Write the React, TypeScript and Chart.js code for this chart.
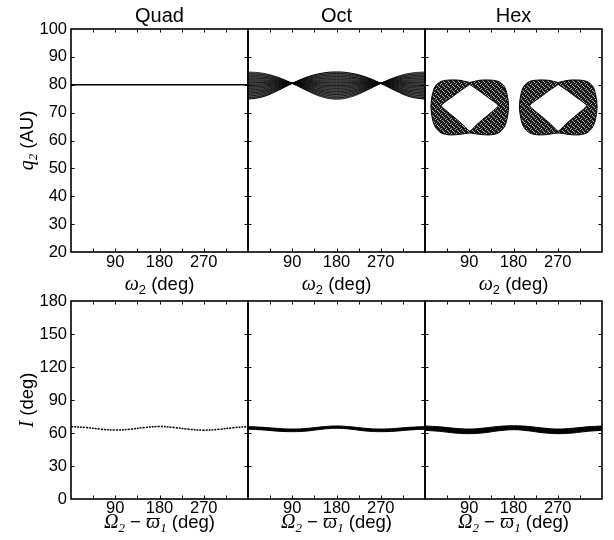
import React, { useEffect, useRef } from "react";
import { Chart, registerables } from "chart.js";
Chart.register(...registerables);

// ---------- data ----------
const OMEGA_DEG = [0, 30, 60, 90, 120, 150, 180, 210, 240, 270, 300, 330, 360];
const X_MARKS = [45, 90, 135, 180, 225, 270, 315];
const X_LABELS = [90, 180, 270];
const Q_TICKS = [20, 30, 40, 50, 60, 70, 80, 90, 100];
const I_TICKS = [0, 30, 60, 90, 120, 150, 180];
const PANEL_TITLES = ["Quad", "Oct", "Hex"];

// Quad: q2 vs omega2
const QUAD_Q = [80, 80, 80, 80, 80, 80, 80, 80, 80, 80, 80, 80, 80];

// Oct: family of q2 curves vs omega2 (first two are the envelope)
const OCT_Q_CURVES = [
  [84.6, 84.14, 82.75, 80.5, 77.85, 75.66, 74.8, 75.66, 77.85, 80.5, 82.75, 84.14, 84.6],
  [74.8, 75.66, 77.85, 80.5, 82.75, 84.14, 84.6, 84.14, 82.75, 80.5, 77.85, 75.66, 74.8],
  [84.0, 83.7, 82.5, 80.5, 78.1, 76.1, 75.3, 76.1, 78.1, 80.5, 82.5, 83.7, 84.0],
  [83.5, 83.19, 82.2, 80.5, 78.4, 76.61, 75.9, 76.61, 78.4, 80.5, 82.2, 83.19, 83.5],
  [82.9, 82.7, 81.9, 80.5, 78.7, 77.1, 76.5, 77.1, 78.7, 80.5, 81.9, 82.7, 82.9],
  [82.4, 82.24, 81.65, 80.5, 78.95, 77.56, 77.0, 77.56, 78.95, 80.5, 81.65, 82.24, 82.4],
  [81.8, 81.7, 81.4, 80.5, 79.2, 78.0, 77.6, 78.0, 79.2, 80.5, 81.4, 81.7, 81.8],
  [81.3, 81.29, 81.1, 80.5, 79.5, 78.51, 78.1, 78.51, 79.5, 80.5, 81.1, 81.29, 81.3],
  [80.7, 80.8, 80.8, 80.5, 79.8, 79.0, 78.7, 79.0, 79.8, 80.5, 80.8, 80.8, 80.7],
  [80.2, 80.33, 80.55, 80.5, 80.05, 79.47, 79.2, 79.47, 80.05, 80.5, 80.55, 80.33, 80.2],
  [79.7, 79.9, 80.3, 80.5, 80.3, 79.9, 79.7, 79.9, 80.3, 80.5, 80.3, 79.9, 79.7],
  [79.2, 79.47, 80.05, 80.5, 80.55, 80.33, 80.2, 80.33, 80.55, 80.5, 80.05, 79.47, 79.2],
  [78.7, 79.0, 79.8, 80.5, 80.8, 80.8, 80.7, 80.8, 80.8, 80.5, 79.8, 79.0, 78.7],
  [78.1, 78.51, 79.5, 80.5, 81.1, 81.29, 81.3, 81.29, 81.1, 80.5, 79.5, 78.51, 78.1],
  [77.6, 78.0, 79.2, 80.5, 81.4, 81.7, 81.8, 81.7, 81.4, 80.5, 79.2, 78.0, 77.6],
  [77.0, 77.56, 78.95, 80.5, 81.65, 82.24, 82.4, 82.24, 81.65, 80.5, 78.95, 77.56, 77.0],
  [76.5, 77.1, 78.7, 80.5, 81.9, 82.7, 82.9, 82.7, 81.9, 80.5, 78.7, 77.1, 76.5],
  [75.9, 76.61, 78.4, 80.5, 82.2, 83.19, 83.5, 83.19, 82.2, 80.5, 78.4, 76.61, 75.9],
  [75.3, 76.1, 78.1, 80.5, 82.5, 83.7, 84.0, 83.7, 82.5, 80.5, 78.1, 76.1, 75.3],
];

// Hex: outer and inner boundaries of the two librating islands
const HEX_OUTER_W_A = [91, 71, 51, 33, 21, 15, 12, 15, 21, 33, 51, 71, 91, 111, 131, 149, 161, 167, 170, 167, 161, 149, 131, 111, 91];
const HEX_OUTER_W_B = [271, 251, 231, 213, 201, 195, 192, 195, 201, 213, 231, 251, 271, 291, 311, 329, 341, 347, 350, 347, 341, 329, 311, 291, 271];
const HEX_OUTER_Q = [80.8, 81.6, 81.7, 81.2, 79.5, 76.5, 72.2, 67.8, 64.8, 62.7, 62.0, 62.2, 62.7, 62.2, 62.0, 62.7, 64.8, 67.8, 72.2, 76.5, 79.5, 81.2, 81.7, 81.6, 80.8];
const HEX_INNER_W_A = [91, 75, 55, 33, 55, 75, 91, 107, 127, 149, 127, 107, 91];
const HEX_INNER_W_B = [271, 255, 235, 213, 235, 255, 271, 287, 307, 329, 307, 287, 271];
const HEX_INNER_Q = [80.1, 78.2, 75.6, 72.5, 69.0, 66.0, 63.4, 66.0, 69.0, 72.5, 75.6, 78.2, 80.1];

// Bottom row: I vs Omega2 - varpi1
const QUAD_I = [65.8, 65.0, 63.5, 62.7, 63.4, 65.0, 65.9, 65.0, 63.4, 62.6, 63.3, 64.8, 65.8];
const OCT_I_UPPER = [65.8, 65.2, 64.2, 63.6, 64.2, 65.6, 66.4, 65.6, 64.2, 63.6, 64.2, 65.2, 65.8];
const OCT_I_LOWER = [63.5, 62.8, 61.7, 61.2, 61.8, 63.4, 64.3, 63.4, 61.8, 61.2, 61.7, 62.8, 63.5];
const HEX_I_UPPER = [66.4, 65.6, 64.3, 63.6, 64.5, 66.0, 66.6, 66.0, 64.5, 63.6, 64.3, 65.6, 66.4];
const HEX_I_LOWER = [62.4, 61.5, 60.0, 59.4, 60.2, 62.0, 63.0, 62.0, 60.2, 59.4, 60.0, 61.5, 62.4];

// ---------- styling ----------
const SANS_FAMILY = "'Liberation Sans', Arial, Helvetica, sans-serif";
const SERIF_FAMILY = "'Liberation Serif', 'DejaVu Serif', 'Times New Roman', serif";
const SERIF_I = `italic 20px ${SERIF_FAMILY}`;
const SUB_I = `italic 13px ${SERIF_FAMILY}`;
const SUB_S = `13px ${SANS_FAMILY}`;
const SANS = `18.5px ${SANS_FAMILY}`;
const TITLE_FONT = `20px ${SANS_FAMILY}`;

type Seg = { t: string; font: string; dy?: number };

const X_TITLE_TOP: Seg[] = [
  { t: "ω", font: SERIF_I },
  { t: "2", font: SUB_S, dy: 4 },
  { t: " (deg)", font: SANS },
];
const X_TITLE_BOTTOM: Seg[] = [
  { t: "Ω", font: SERIF_I },
  { t: "2", font: SUB_I, dy: 4 },
  { t: " − ", font: SANS },
  { t: "ϖ", font: SERIF_I },
  { t: "1", font: SUB_I, dy: 4 },
  { t: " (deg)", font: SANS },
];
const Y_TITLE_TOP: Seg[] = [
  { t: "q", font: SERIF_I },
  { t: "2", font: SUB_I, dy: 4 },
  { t: " (AU)", font: SANS },
];
const Y_TITLE_BOTTOM: Seg[] = [
  { t: "I", font: SERIF_I },
  { t: " (deg)", font: SANS },
];

function drawRich(ctx: CanvasRenderingContext2D, segs: Seg[], cx: number, cy: number, rotate: boolean) {
  ctx.save();
  ctx.translate(cx, cy);
  if (rotate) ctx.rotate(-Math.PI / 2);
  ctx.fillStyle = "#000";
  ctx.textAlign = "left";
  ctx.textBaseline = "alphabetic";
  let total = 0;
  const widths = segs.map((s) => {
    ctx.font = s.font;
    const w = ctx.measureText(s.t).width;
    total += w;
    return w;
  });
  let x = -total / 2;
  segs.forEach((s, i) => {
    ctx.font = s.font;
    ctx.fillText(s.t, x, s.dy || 0);
    x += widths[i];
  });
  ctx.restore();
}

const panelDecor = {
  id: "panelDecor",
  afterDraw(chart: any, _args: any, opts: any) {
    const { ctx, chartArea: a, scales } = chart;
    const xs = scales.x;
    const ys = scales.y;
    ctx.save();
    ctx.strokeStyle = "#000";
    ctx.lineWidth = 1;
    const tl = 3.5;
    ctx.beginPath();
    X_MARKS.forEach((v) => {
      const px = Math.round(xs.getPixelForValue(v)) + 0.5;
      ctx.moveTo(px, a.top);
      ctx.lineTo(px, a.top + tl);
      ctx.moveTo(px, a.bottom);
      ctx.lineTo(px, a.bottom - tl);
    });
    (opts.yMarks as number[]).forEach((v, i, arr) => {
      if (i === 0 || i === arr.length - 1) return;
      const py = Math.round(ys.getPixelForValue(v)) + 0.5;
      ctx.moveTo(a.left, py);
      ctx.lineTo(a.left + tl, py);
      ctx.moveTo(a.right, py);
      ctx.lineTo(a.right - tl, py);
    });
    ctx.stroke();
    ctx.lineWidth = 1.6;
    ctx.strokeRect(a.left, a.top, a.right - a.left, a.bottom - a.top);
    ctx.restore();

    const cx = (a.left + a.right) / 2;
    if (opts.title) {
      ctx.save();
      ctx.font = TITLE_FONT;
      ctx.fillStyle = "#000";
      ctx.textAlign = "center";
      ctx.textBaseline = "alphabetic";
      ctx.fillText(opts.title, cx, a.top - 7);
      ctx.restore();
    }
    if (opts.xTitle) drawRich(ctx, opts.xTitle, cx, a.bottom + opts.xTitleOffset, false);
    if (opts.yTitle) drawRich(ctx, opts.yTitle, 33, (a.top + a.bottom) / 2, true);
  },
};

function makeSpeckle(ctx: CanvasRenderingContext2D, bg: string, fg: string): CanvasPattern | string {
  const size = 5;
  const tile = document.createElement("canvas");
  tile.width = size;
  tile.height = size;
  const t = tile.getContext("2d");
  if (!t) return bg;
  t.fillStyle = bg;
  t.fillRect(0, 0, size, size);
  t.fillStyle = fg;
  t.fillRect(0, 4, 1, 1);
  t.fillRect(1, 3, 1, 1);
  t.fillRect(3, 1, 1, 1);
  t.fillRect(2, 0, 1, 1);
  t.fillRect(4, 2, 1, 1);
  return ctx.createPattern(tile, "repeat") || bg;
}

function pts(xs: number[], ys: number[]) {
  return xs.map((x, i) => ({ x, y: ys[i] }));
}

function line(xs: number[], ys: number[], extra: any = {}) {
  return {
    data: pts(xs, ys),
    showLine: true,
    pointRadius: 0,
    borderColor: "#000",
    borderWidth: 1,
    tension: 0.4,
    fill: false,
    ...extra,
  };
}

function topDatasets(col: number, ctx: CanvasRenderingContext2D) {
  if (col === 0) return [line(OMEGA_DEG, QUAD_Q, { borderWidth: 1.5, tension: 0 })];
  if (col === 1) {
    return OCT_Q_CURVES.map((c, i) =>
      line(OMEGA_DEG, c, i === 1 ? { fill: "-1", backgroundColor: "#6a6a6a", borderWidth: 1 } : { borderWidth: 0.75 })
    );
  }
  const speckle = makeSpeckle(ctx, "#1c1c1c", "#b0b0b0");
  return [
    line(HEX_INNER_W_A, HEX_INNER_Q, { fill: "shape", backgroundColor: "#ffffff", tension: 0.15 }),
    line(HEX_INNER_W_B, HEX_INNER_Q, { fill: "shape", backgroundColor: "#ffffff", tension: 0.15 }),
    line(HEX_OUTER_W_A, HEX_OUTER_Q, { fill: "shape", backgroundColor: speckle, tension: 0.3 }),
    line(HEX_OUTER_W_B, HEX_OUTER_Q, { fill: "shape", backgroundColor: speckle, tension: 0.3 }),
  ];
}

function bottomDatasets(col: number) {
  if (col === 0) return [line(OMEGA_DEG, QUAD_I, { borderWidth: 1.5, borderDash: [2, 1] })];
  const up = col === 1 ? OCT_I_UPPER : HEX_I_UPPER;
  const lo = col === 1 ? OCT_I_LOWER : HEX_I_LOWER;
  return [
    line(OMEGA_DEG, up, { borderWidth: 1 }),
    line(OMEGA_DEG, lo, { borderWidth: 1, fill: "-1", backgroundColor: "#000000" }),
  ];
}

// ---------- layout ----------
const PLOT_LEFT = 71;
const PLOT_W = 177;
const ROWS = [
  { plotTop: 29, plotH: 223, canvasTop: 0, canvasH: 300, xTitleOffset: 38, tickPad: 1 },
  { plotTop: 301, plotH: 198, canvasTop: 280, canvasH: 260, xTitleOffset: 29, tickPad: 0 },
];

function buildConfig(row: number, col: number, ctx: CanvasRenderingContext2D): any {
  const R = ROWS[row];
  const padL = col === 0 ? 0 : 10;
  const padR = 10;
  const padTop = R.plotTop - R.canvasTop;
  const xAxisH = R.canvasH - padTop - R.plotH;
  const yMarks = row === 0 ? Q_TICKS : I_TICKS;
  return {
    type: "scatter",
    data: { datasets: row === 0 ? topDatasets(col, ctx) : bottomDatasets(col) },
    plugins: [panelDecor],
    options: {
      animation: false,
      responsive: false,
      maintainAspectRatio: false,
      events: [],
      layout: { padding: { left: padL, right: padR, top: padTop, bottom: 0 } },
      plugins: {
        legend: { display: false },
        tooltip: { enabled: false },
        title: { display: false },
        filler: { drawTime: "beforeDatasetsDraw" },
        panelDecor: {
          title: row === 0 ? PANEL_TITLES[col] : null,
          xTitle: row === 0 ? X_TITLE_TOP : X_TITLE_BOTTOM,
          xTitleOffset: R.xTitleOffset,
          yTitle: col === 0 ? (row === 0 ? Y_TITLE_TOP : Y_TITLE_BOTTOM) : null,
          yMarks,
        },
      },
      scales: {
        x: {
          type: "linear",
          min: 0,
          max: 360,
          grid: { display: false, drawTicks: false },
          border: { display: false },
          ticks: {
            stepSize: 45,
            autoSkip: false,
            maxRotation: 0,
            padding: R.tickPad,
            color: "#000",
            font: { family: SANS_FAMILY, size: 16.5 },
            callback: (v: number) => (X_LABELS.includes(v) ? String(v) : ""),
          },
          afterFit: (s: any) => {
            s.height = xAxisH;
          },
        },
        y: {
          type: "linear",
          display: col === 0,
          min: yMarks[0],
          max: yMarks[yMarks.length - 1],
          grid: { display: false, drawTicks: false },
          border: { display: false },
          ticks: {
            stepSize: yMarks[1] - yMarks[0],
            autoSkip: false,
            padding: 4,
            color: "#000",
            font: { family: SANS_FAMILY, size: 16.5 },
          },
          afterFit: (s: any) => {
            s.width = col === 0 ? PLOT_LEFT : 0;
          },
        },
      },
    },
  };
}

function Panel({ row, col }: { row: number; col: number }) {
  const ref = useRef<HTMLCanvasElement | null>(null);
  const R = ROWS[row];
  const left = col === 0 ? 0 : PLOT_LEFT + col * PLOT_W - 10;
  const width = col === 0 ? PLOT_LEFT + PLOT_W + 10 : PLOT_W + 20;
  useEffect(() => {
    const canvas = ref.current as HTMLCanvasElement;
    const ctx = canvas.getContext("2d") as CanvasRenderingContext2D;
    const chart = new Chart(canvas, buildConfig(row, col, ctx));
    return () => chart.destroy();
  }, [row, col]);
  return (
    <canvas
      ref={ref}
      width={width}
      height={R.canvasH}
      style={{ position: "absolute", left, top: R.canvasTop, width, height: R.canvasH }}
    />
  );
}

export default function App() {
  return (
    <div style={{ position: "fixed", left: 0, top: 0, width: 614, height: 540, background: "#fff" }}>
      {[0, 1].map((r) => [0, 1, 2].map((c) => <Panel key={`${r}-${c}`} row={r} col={c} />))}
    </div>
  );
}
